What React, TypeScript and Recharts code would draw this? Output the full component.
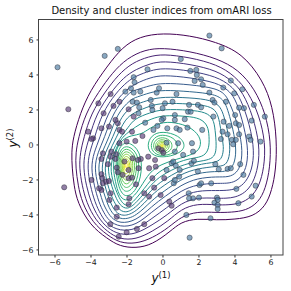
import React from 'react';
import { ComposedChart, Line, Scatter, XAxis, YAxis } from 'recharts';

type P = [number, number];

const chartTitle = 'Density and cluster indices from omARI loss';
const xTicks = [-6, -4, -2, 0, 2, 4, 6];
const yTicks = [-6, -4, -2, 0, 2, 4, 6];
const xDomain: [number, number] = [-6.89, 6.67];
const yDomain: [number, number] = [-6.29, 7.14];

// viridis contour level colours, outer (low density) -> inner (high density)
const levelColors = [
  '#440154', '#461263', '#472373', '#45327d', '#413f84', '#3c4d8a', '#375b8c', '#31688e',
  '#2c738e', '#277e8e', '#248a8d', '#21968a', '#22a287', '#2cac80', '#35b779', '#4ec16b',
  '#66cb5d', '#83d34b', '#a0d938', '#bfdf2a', '#dee328', '#fde725',
];

// shared contour levels (enclosing both modes)
const level01: P[] = [[0,6.4],[1.5,6.25],[2.9,5.9],[4.4,5.25],[5.55,3.7],[6.1,2.2],[6.33,0.3],[6.28,-1.4],[6.05,-2.6],[5.7,-3.5],[5.0,-4.1],[4.0,-4.25],[3.0,-4.3],[1.9,-4.2],[1.0,-4.4],[0.4,-4.95],[-0.6,-5.7],[-1.5,-5.9],[-2.4,-5.8],[-3.1,-5.35],[-4.05,-4.6],[-4.75,-3.3],[-4.95,-2.3],[-5.05,-1.3],[-5.08,-0.45],[-5.0,0.4],[-4.6,1.8],[-4.05,3.1],[-3.1,4.5],[-2.25,5.6],[-1.3,6.2]];
const level02: P[] = [[0,5.55],[1.5,5.35],[3.0,4.95],[4.2,4.3],[5.1,3.2],[5.7,1.8],[6.0,0.2],[5.95,-1.3],[5.7,-2.5],[5.3,-3.3],[4.6,-3.75],[3.8,-3.85],[3.0,-3.87],[1.9,-3.8],[1.0,-4.1],[0.35,-4.7],[-0.6,-5.33],[-1.5,-5.65],[-2.4,-5.6],[-3.1,-5.15],[-3.9,-4.45],[-4.5,-3.3],[-4.72,-2.3],[-4.85,-1.3],[-4.85,-0.45],[-4.7,0.4],[-4.3,1.8],[-3.6,3.0],[-2.8,4.15],[-2.0,4.95],[-1.0,5.45]];
const level03: P[] = [[0,5.2],[1.5,5.0],[3.0,4.6],[4.0,3.95],[4.75,3.0],[5.35,1.7],[5.7,0.1],[5.62,-1.3],[5.35,-2.35],[4.9,-3.0],[4.3,-3.35],[3.6,-3.43],[3.0,-3.43],[1.9,-3.35],[1.0,-3.67],[0.3,-4.35],[-0.6,-4.95],[-1.5,-5.4],[-2.4,-5.4],[-3.1,-4.95],[-3.75,-4.3],[-4.25,-3.3],[-4.5,-2.3],[-4.65,-1.3],[-4.6,-0.45],[-4.4,0.4],[-4.0,1.8],[-3.24,3.0],[-2.5,4.0],[-1.7,4.7],[-0.8,5.05]];
const level04: P[] = [[0,4.8],[1.5,4.62],[3.0,4.25],[3.85,3.65],[4.45,3.0],[5.0,1.65],[5.38,0.0],[5.3,-1.25],[5.0,-2.2],[4.55,-2.75],[4.0,-3.0],[3.5,-3.05],[3.0,-3.05],[1.9,-3.0],[1.0,-3.33],[0.25,-4.0],[-0.6,-4.57],[-1.5,-5.1],[-2.4,-5.15],[-3.1,-4.75],[-3.6,-4.15],[-4.0,-3.3],[-4.27,-2.3],[-4.43,-1.3],[-4.35,-0.45],[-4.1,0.4],[-3.7,1.8],[-2.9,3.0],[-2.2,3.85],[-1.5,4.33],[-0.7,4.65]];
const level05: P[] = [[0,4.4],[1.5,4.25],[3.0,3.9],[3.75,3.4],[4.2,2.9],[4.7,1.6],[5.07,-0.05],[5.0,-1.2],[4.7,-2.0],[4.25,-2.45],[3.7,-2.6],[3.0,-2.61],[1.9,-2.6],[1.0,-2.95],[0.2,-3.6],[-0.6,-4.19],[-1.5,-4.85],[-2.4,-4.92],[-3.1,-4.55],[-3.45,-4.0],[-3.78,-3.3],[-4.05,-2.3],[-4.2,-1.3],[-4.1,-0.45],[-3.8,0.4],[-3.4,1.8],[-2.6,3.0],[-1.95,3.65],[-1.5,3.94],[-0.7,4.25]];
const level06: P[] = [[0,4.0],[1.5,3.85],[3.0,3.56],[3.6,3.15],[4.0,2.7],[4.4,1.5],[4.74,-0.1],[4.68,-1.15],[4.4,-1.8],[3.95,-2.15],[3.4,-2.2],[3.0,-2.19],[1.9,-2.25],[1.0,-2.61],[0.15,-3.25],[-0.6,-3.81],[-1.5,-4.6],[-2.4,-4.7],[-3.0,-4.35],[-3.3,-3.85],[-3.56,-3.3],[-3.83,-2.3],[-4.0,-1.3],[-3.85,-0.45],[-3.5,0.4],[-3.1,1.8],[-2.26,3.0],[-1.5,3.53],[-0.7,3.85]];
const level07: P[] = [[0,3.55],[1.5,3.45],[3.0,3.24],[3.5,2.85],[3.7,2.4],[4.1,1.4],[4.43,-0.1],[4.35,-1.1],[4.1,-1.6],[3.65,-1.85],[3.0,-1.81],[1.9,-1.9],[1.0,-2.29],[0.1,-2.95],[-0.6,-3.49],[-1.5,-4.35],[-2.4,-4.5],[-2.9,-4.15],[-3.15,-3.7],[-3.35,-3.3],[-3.62,-2.3],[-3.82,-1.3],[-3.63,-0.45],[-3.25,0.4],[-2.8,1.8],[-1.93,3.0],[-1.5,3.14],[-0.7,3.4]];
const level08: P[] = [[0,3.15],[1.5,3.05],[2.9,2.91],[3.4,2.55],[3.6,2.0],[3.8,1.3],[4.09,-0.1],[4.0,-1.0],[3.75,-1.4],[3.3,-1.55],[3.0,-1.5],[1.9,-1.6],[1.0,-1.96],[0.05,-2.65],[-0.6,-3.14],[-1.5,-4.1],[-2.3,-4.3],[-2.85,-3.95],[-3.15,-3.2],[-3.42,-2.3],[-3.63,-1.3],[-3.42,-0.45],[-3.0,0.4],[-2.55,1.8],[-1.8,2.6],[-1.5,2.72],[-0.7,3.0]];
const level09: P[] = [[0,2.75],[1.5,2.7],[2.7,2.57],[3.2,2.2],[3.4,1.6],[3.55,1.0],[3.76,-0.1],[3.65,-0.9],[3.4,-1.2],[3.0,-1.22],[1.9,-1.35],[1.0,-1.66],[0.0,-2.35],[-0.6,-2.82],[-1.5,-3.85],[-2.2,-4.1],[-2.65,-3.85],[-2.95,-3.25],[-3.25,-2.3],[-3.44,-1.3],[-3.22,-0.45],[-2.8,0.4],[-2.3,1.7],[-1.7,2.2],[-1.5,2.32],[-0.7,2.6]];
const level10: P[] = [[0,2.4],[1.5,2.35],[2.6,2.23],[3.0,1.9],[3.15,1.3],[3.25,0.6],[3.39,-0.1],[3.3,-0.75],[3.0,-0.98],[2.4,-1.05],[1.9,-1.15],[1.0,-1.4],[-0.05,-2.05],[-0.6,-2.51],[-1.5,-3.6],[-2.1,-3.92],[-2.5,-3.65],[-2.8,-3.1],[-3.08,-2.3],[-3.28,-1.3],[-3.03,-0.45],[-2.6,0.4],[-2.1,1.5],[-1.6,1.85],[-0.7,2.25]];
const level11: P[] = [[0,2.05],[1.5,2.0],[2.4,1.87],[2.8,1.5],[2.9,0.9],[2.98,-0.1],[2.9,-0.6],[2.6,-0.85],[1.9,-0.95],[1.0,-1.15],[-0.1,-1.75],[-0.6,-2.19],[-1.5,-3.35],[-2.0,-3.71],[-2.4,-3.45],[-2.65,-2.95],[-2.9,-2.2],[-3.1,-1.3],[-2.87,-0.45],[-2.4,0.4],[-1.93,1.0],[-1.6,1.5],[-0.7,1.85]];
const level12: P[] = [[0,1.7],[1.3,1.65],[2.1,1.52],[2.5,1.1],[2.57,0.5],[2.57,-0.2],[2.3,-0.65],[1.7,-0.75],[1.0,-0.9],[-0.15,-1.45],[-0.6,-1.9],[-1.5,-3.1],[-1.95,-3.53],[-2.25,-3.35],[-2.5,-2.9],[-2.76,-2.2],[-2.95,-1.3],[-2.72,-0.45],[-2.3,0.45],[-1.75,0.85],[-1.3,1.2],[-0.6,1.5]];
const level13: P[] = [[0,1.35],[0.9,1.25],[1.65,0.95],[2.15,0.35],[2.05,-0.3],[1.5,-0.6],[0.8,-0.8],[-0.1,-1.1],[-0.75,-1.55],[-1.25,-2.45],[-1.7,-3.05],[-2.1,-3.22],[-2.45,-2.9],[-2.65,-2.1],[-2.8,-1.2],[-2.62,-0.3],[-2.3,0.3],[-1.75,0.55],[-1.2,0.6],[-0.75,0.95]];

const sharedLevels: P[][] = [level01, level02, level03, level04, level05, level06, level07, level08, level09, level10, level11, level12, level13];

// inner levels 14..22 around the left mode
const leftMode: P[][] = [
  [[-2.05,0.24],[-1.38,-0.17],[-1.11,-1.15],[-1.38,-2.52],[-2.05,-3.09],[-2.48,-2.52],[-2.67,-1.15],[-2.48,-0.17]],
  [[-2.05,0.01],[-1.5,-0.33],[-1.27,-1.15],[-1.5,-2.33],[-2.05,-2.81],[-2.42,-2.33],[-2.58,-1.15],[-2.42,-0.33]],
  [[-2.05,-0.15],[-1.6,-0.45],[-1.41,-1.15],[-1.6,-2.15],[-2.05,-2.57],[-2.37,-2.15],[-2.5,-1.15],[-2.37,-0.45]],
  [[-2.05,-0.31],[-1.68,-0.56],[-1.53,-1.15],[-1.68,-1.99],[-2.05,-2.34],[-2.32,-1.99],[-2.43,-1.15],[-2.32,-0.56]],
  [[-2.05,-0.46],[-1.76,-0.67],[-1.64,-1.15],[-1.76,-1.83],[-2.05,-2.11],[-2.27,-1.83],[-2.36,-1.15],[-2.27,-0.67]],
  [[-2.05,-0.61],[-1.83,-0.77],[-1.74,-1.15],[-1.83,-1.68],[-2.05,-1.9],[-2.22,-1.68],[-2.29,-1.15],[-2.22,-0.77]],
  [[-2.05,-0.75],[-1.89,-0.87],[-1.83,-1.15],[-1.89,-1.54],[-2.05,-1.7],[-2.18,-1.54],[-2.23,-1.15],[-2.18,-0.87]],
  [[-2.05,-0.88],[-1.95,-0.96],[-1.91,-1.15],[-1.95,-1.4],[-2.05,-1.51],[-2.13,-1.4],[-2.16,-1.15],[-2.13,-0.96]],
  [[-2.05,-1.02],[-2.0,-1.06],[-1.98,-1.15],[-2.0,-1.27],[-2.05,-1.32],[-2.09,-1.27],[-2.11,-1.15],[-2.09,-1.06]],
];

// inner levels 14..22 around the central peak
const peakMode: P[][] = [
  [[-0.05,0.8],[0.9,0.55],[1.3,-0.05],[0.9,-0.52],[-0.05,-0.75],[-0.66,-0.56],[-0.9,-0.05],[-0.66,0.56]],
  [[-0.05,0.62],[0.62,0.42],[0.89,-0.05],[0.62,-0.48],[-0.05,-0.66],[-0.52,-0.48],[-0.71,-0.05],[-0.52,0.42]],
  [[-0.05,0.46],[0.38,0.31],[0.56,-0.05],[0.38,-0.39],[-0.05,-0.54],[-0.42,-0.39],[-0.57,-0.05],[-0.42,0.31]],
  [[-0.05,0.34],[0.26,0.22],[0.39,-0.05],[0.26,-0.32],[-0.05,-0.44],[-0.33,-0.32],[-0.45,-0.05],[-0.33,0.22]],
  [[-0.05,0.25],[0.18,0.16],[0.28,-0.05],[0.18,-0.26],[-0.05,-0.35],[-0.26,-0.26],[-0.35,-0.05],[-0.26,0.16]],
  [[-0.05,0.16],[0.11,0.1],[0.18,-0.05],[0.11,-0.2],[-0.05,-0.26],[-0.2,-0.2],[-0.26,-0.05],[-0.2,0.1]],
  [[-0.05,0.08],[0.05,0.04],[0.09,-0.05],[0.05,-0.14],[-0.05,-0.18],[-0.14,-0.14],[-0.18,-0.05],[-0.14,0.04]],
  [[-0.05,0.02],[0.0,0.0],[0.02,-0.05],[0.0,-0.1],[-0.05,-0.12],[-0.1,-0.1],[-0.12,-0.05],[-0.1,0.0]],
  [[-0.05,-0.02],[-0.03,-0.03],[-0.02,-0.05],[-0.03,-0.07],[-0.05,-0.08],[-0.07,-0.07],[-0.08,-0.05],[-0.07,-0.03]],
];

// samples assigned to cluster 1 (purple) and cluster 2 (blue)
const cluster1: P[] = [
  [-5.26,2.04],[-2.91,2.91],[-2.42,2.47],[-2.75,2.23],[-3.59,2.38],[-1.91,2.04],[-3.3,1.81],[-1.63,1.62],
  [-4.16,0.76],[-3.42,0.95],[-2.51,1.24],[-2.42,0.86],[-1.14,0.51],[-3.88,0.38],[-3.97,0.34],[-2.42,0.1],
  [-2.02,0.19],[-1.54,0.23],[-2.87,-0.38],[-3.34,-0.48],[-2.6,-0.53],[-3.42,-0.8],[-2.64,-0.8],[-2.14,-0.95],
  [-1.69,-0.76],[-1.23,-0.8],[-0.82,-0.67],[-0.4,-1.24],[-0.77,-1.33],[-2.57,-1.3],[-3.06,-1.1],[-2.51,-1.56],
  [-2.24,-1.71],[-1.91,-1.9],[-1.72,-1.87],[-3.42,-1.67],[-3.97,-2.0],[-5.49,-2.42],[-3.34,-2.19],[-3.15,-2.1],
  [-3.0,-2.06],[-1.5,-2.25],[-0.59,-1.9],[-0.49,-2.44],[-2.91,-2.76],[-1.87,-3.05],[-3.42,-2.57],[-1.04,-2.76],
  [-0.77,-2.95],[-2.97,-3.14],[-1.91,-3.39],[-2.57,-3.58],[-2.57,-4.1],[-2.93,-4.53],[-2.02,-4.99],[-1.45,-4.8],
  [-1.04,-4.53],[-2.46,-5.24],[-0.13,-2.86],[0.35,-3.24],[0.48,-3.47],[0.07,-1.9],[-1.91,-1.43],[-2.91,-0.67],
  [-1.39,-0.86],[-1.36,-1.33],[-2.64,1.43],[-3.0,1.05],[-2.27,0.76],[-1.72,0.76],[-3.37,-1.9],[-3.55,-2.48],
  [-0.26,-0.19],[-0.07,-0.29],[0.02,-0.44],[-0.44,-0.86],
];
const cluster2: P[] = [
  [-5.86,4.44],[-3.24,5.09],[-2.51,5.49],[-0.86,4.32],[-1.63,3.87],[-1.58,3.58],[-1.78,3.24],[-2.09,3.05],
  [-1.63,2.99],[-1.26,3.05],[-1.69,2.47],[-1.45,2.42],[-1.32,2.15],[-0.68,2.57],[-0.35,2.99],[-0.22,3.24],
  [-0.62,2.23],[-0.59,2.0],[-0.99,1.27],[-0.31,1.09],[-1.36,1.81],[2.58,6.25],[3.26,5.52],[0.99,4.91],
  [1.52,4.23],[1.85,4.29],[1.88,4.0],[2.12,3.75],[1.76,3.66],[2.21,3.43],[3.77,3.68],[3.35,3.28],
  [4.41,3.18],[3.96,2.95],[2.58,2.99],[0.75,2.91],[0.11,2.38],[0.53,2.47],[1.45,2.29],[1.94,2.29],
  [2.76,2.57],[2.86,2.42],[3.5,2.47],[4.23,2.13],[4.5,2.1],[5.05,2.29],[5.66,1.62],[-0.02,2.1],
  [0.66,1.71],[1.39,1.9],[1.54,1.9],[2.12,2.15],[2.8,1.62],[3.37,1.33],[4.01,1.71],[4.05,1.24],
  [4.23,1.14],[4.93,1.39],[0.02,1.52],[0.24,0.95],[0.75,0.95],[1.21,1.47],[1.36,0.99],[2.18,0.86],
  [3.31,0.76],[3.68,1.09],[3.59,0.61],[4.23,0.61],[4.78,0.48],[1.61,0.1],[3.22,0.34],[3.83,0.29],
  [4.05,0.29],[3.9,0.04],[4.87,0.29],[5.42,0.19],[1.67,-0.38],[1.12,-0.57],[0.48,-1.05],[0.71,-1.18],
  [1.58,-1.05],[1.72,-0.91],[2.91,-1.1],[3.1,-1.39],[3.59,-1.37],[3.77,-1.33],[4.29,-1.1],[1.94,-1.52],
  [0.9,-1.81],[0.6,-2.19],[2.03,-2.29],[2.12,-2.19],[2.68,-2.19],[4.47,-1.71],[4.08,-2.51],[5.15,-2.33],
  [1.43,-2.76],[1.67,-3.05],[1.45,-3.05],[2.0,-3.01],[3.0,-3.01],[3.04,-3.14],[2.86,-3.3],[3.04,-3.43],
  [3.04,-3.66],[4.19,-3.33],[4.93,-2.95],[1.3,-4.0],[2.64,-4.19],[1.48,-5.3],[0.2,0.13],[0.84,0.1],
  [0.66,-0.38],[-0.07,1.43],[0.66,1.43],[0.93,0.86],[0.57,-0.95],[0.2,-1.43],[0.93,-1.43],[0.66,-2.0],
  [-0.53,0.86],
];

const toObj = (arr: P[]) => arr.map(([x, y]) => ({ x, y }));
const fmt = (v: number) => (v < 0 ? '\u2212' + Math.abs(v) : String(v));
const FONT = 'DejaVu Sans, Verdana, sans-serif';

const dot = (fill: string) => (props: any) => (
  <circle cx={props.cx} cy={props.cy} r={2.6} fill={fill} fillOpacity={0.66}
    stroke="#2a2a36" strokeOpacity={0.75} strokeWidth={0.6} />
);

export default function App() {
  const rings = [
    ...sharedLevels.map((pts, i) => ({ pts, color: levelColors[i] })),
    ...leftMode.map((pts, i) => ({ pts, color: levelColors[13 + i] })),
    ...peakMode.map((pts, i) => ({ pts, color: levelColors[13 + i] })),
  ];
  const tickStyle = { fontSize: 7.8, fill: '#222', fontFamily: FONT };
  return (
    <div style={{ position: 'absolute', left: 0, top: 0, width: 291, height: 291, background: '#fff', fontFamily: FONT }}>
      <div style={{ position: 'absolute', left: 0, top: 5.5, width: 291, textAlign: 'center', fontSize: 10, lineHeight: 1, color: '#111', paddingLeft: 32, boxSizing: 'border-box' }}>
        {chartTitle}
      </div>
      <ComposedChart width={291} height={291} margin={{ top: 20, right: 8, bottom: 16, left: 9 }}>
        <XAxis type="number" dataKey="x" domain={xDomain} ticks={xTicks} allowDataOverflow height={20}
          axisLine={false} tickLine={{ stroke: '#333' }} tickSize={2.5} tickMargin={2} tick={tickStyle} tickFormatter={fmt} />
        <YAxis type="number" dataKey="y" domain={yDomain} ticks={yTicks} allowDataOverflow width={30}
          axisLine={false} tickLine={{ stroke: '#333' }} tickSize={2.5} tickMargin={3} tick={tickStyle} tickFormatter={fmt} />
        {rings.map((r, i) => (
          <Line key={'c' + i} data={toObj(r.pts)} dataKey="y" type="basisClosed" stroke={r.color}
            strokeWidth={1} dot={false} activeDot={false} isAnimationActive={false} legendType="none" />
        ))}
        <Scatter data={toObj(cluster1)} shape={dot('#5a3d78')} isAnimationActive={false} />
        <Scatter data={toObj(cluster2)} shape={dot('#4a7aa0')} isAnimationActive={false} />
      </ComposedChart>
      <svg width={291} height={291} style={{ position: 'absolute', left: 0, top: 0, pointerEvents: 'none' }}>
        <rect x={38.5} y={19.5} width={244.5} height={235.5} fill="none" stroke="#444" strokeWidth={1} />
      </svg>
      <div style={{ position: 'absolute', left: 161, top: 278, transform: 'translate(-50%,-50%)', fontSize: 12, lineHeight: 1, whiteSpace: 'nowrap', color: '#111' }}>
        <i>y</i><sup style={{ fontSize: 8.5, verticalAlign: 'baseline', position: 'relative', top: -4 }}>(1)</sup>
      </div>
      <div style={{ position: 'absolute', left: 13, top: 138, transform: 'translate(-50%,-50%) rotate(-90deg)', fontSize: 12, lineHeight: 1, whiteSpace: 'nowrap', color: '#111' }}>
        <i>y</i><sup style={{ fontSize: 8.5, verticalAlign: 'baseline', position: 'relative', top: -4 }}>(2)</sup>
      </div>
    </div>
  );
}
